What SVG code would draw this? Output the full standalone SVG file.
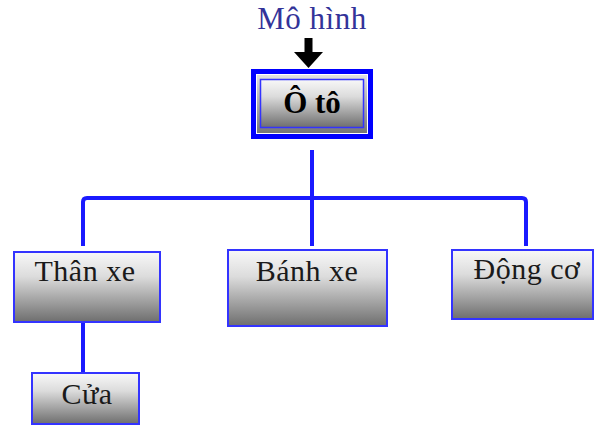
<svg xmlns="http://www.w3.org/2000/svg" width="595" height="427" viewBox="0 0 595 427">
<defs>
<linearGradient id="g" x1="0" y1="0" x2="0" y2="1">
<stop offset="0" stop-color="#f8f8f8"/>
<stop offset="0.35" stop-color="#dcdcdc"/>
<stop offset="1" stop-color="#6e6e6e"/>
</linearGradient>
<linearGradient id="g2" x1="0" y1="0" x2="0" y2="1">
<stop offset="0" stop-color="#e8e8e8"/>
<stop offset="1" stop-color="#707070"/>
</linearGradient>
</defs>
<style>
.box{fill:url(#g);stroke:#3333ff;stroke-width:2}
.lbl{font-family:"Liberation Serif","Times New Roman",serif;font-size:30px;fill:#1a1a1a;text-anchor:middle;letter-spacing:0.5px}
.conn{fill:none;stroke:#1a1aff;stroke-width:4;stroke-linejoin:round}
</style>
<text x="312" y="29" style="font-family:'Liberation Serif','Times New Roman',serif;font-size:31px;fill:#333399;text-anchor:middle;letter-spacing:0.5px">Mô hình</text>
<g id="arrow">
<polygon points="304.5,38 312.5,38 312.5,52 323,52 308.5,68 294,52 304.5,52" fill="#000"/>
</g>
<g id="connectors">
<path class="conn" d="M312,150 V246"/>
<path class="conn" d="M83,246 V202 Q83,198 87,198 H522 Q526,198 526,202 V246"/>
<path class="conn" d="M83,322 V373"/>
</g>
<g id="oto">
<rect x="253.5" y="71.5" width="117" height="65" fill="url(#g2)" stroke="#0000ff" stroke-width="5"/>
<rect x="256.5" y="74.5" width="111" height="59" fill="none" stroke="#ffffff" stroke-width="1"/>
<rect x="260.5" y="79.5" width="103" height="48" fill="url(#g)" stroke="#3333ff" stroke-width="1.5"/>
<text x="312" y="113" class="lbl" style="font-weight:bold;fill:#000;font-size:31px;letter-spacing:0">Ô tô</text>
</g>
<g id="thanxe">
<rect class="box" x="14" y="252" width="146" height="70"/>
<text x="85" y="281" class="lbl">Thân xe</text>
</g>
<g id="banhxe">
<rect class="box" x="228" y="250" width="159" height="76"/>
<text x="307" y="281" class="lbl">Bánh xe</text>
</g>
<g id="dongco">
<rect class="box" x="452" y="250" width="141" height="69"/>
<text x="527" y="279" class="lbl">Động cơ</text>
</g>
<g id="cua">
<rect class="box" x="32" y="373" width="107" height="51"/>
<text x="87" y="404" class="lbl">Cửa</text>
</g>
</svg>
